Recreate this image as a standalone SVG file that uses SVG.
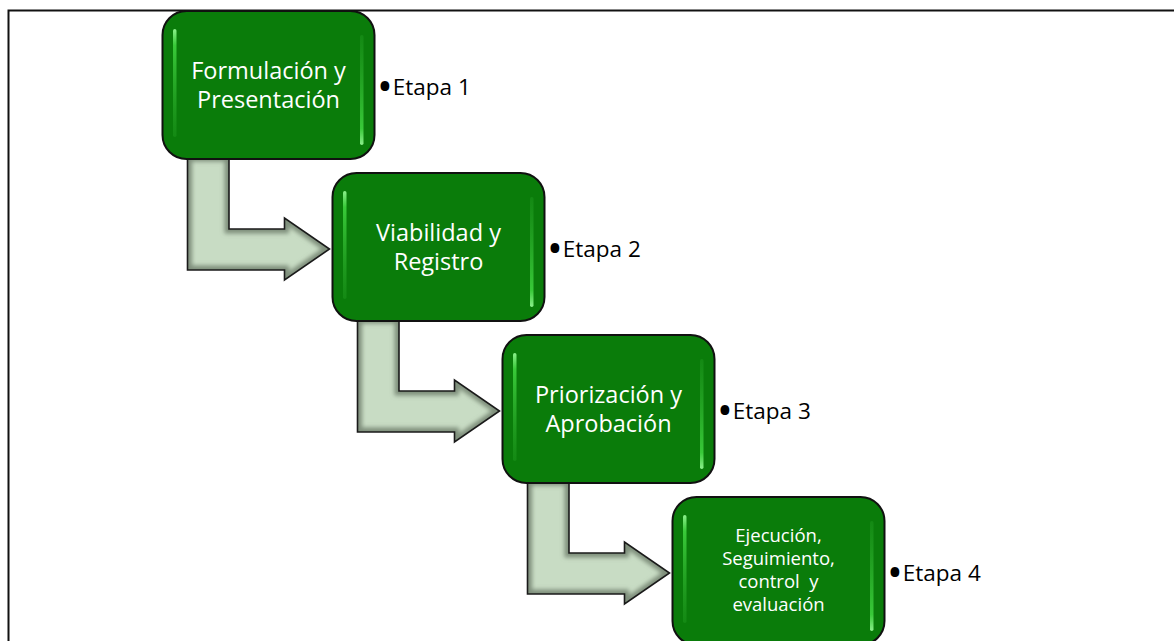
<svg xmlns="http://www.w3.org/2000/svg" width="1174" height="641" viewBox="0 0 1174 641">
<style>
.frame{fill:none;stroke:#111;stroke-width:2}
.box{fill:#0a7c0a;stroke:#111;stroke-width:2}
.lbl{font-family:"Open Sans","Liberation Sans",sans-serif;fill:#fff;text-anchor:middle}
.big{font-size:23.5px}
.small{font-size:18.5px}
.etapa{font-family:"Open Sans","Liberation Sans",sans-serif;font-size:22.5px;fill:#000}
.bul{font-size:42px}
.arrFill{fill:#c8dcc4}
.arrEdge{fill:none;stroke:#7f8f7c;stroke-width:9;filter:url(#blur)}
.arrLine{fill:none;stroke:#1a1a1a;stroke-width:1.6;stroke-linejoin:miter}
</style>
<defs>
<filter id="blur" x="-10%" y="-10%" width="120%" height="120%"><feGaussianBlur stdDeviation="2.2"/></filter>
<linearGradient id="hlL" x1="0" y1="0" x2="0" y2="1">
<stop offset="0" stop-color="#8cf08c" stop-opacity="1"/>
<stop offset="0.15" stop-color="#3ed23e" stop-opacity="0.9"/>
<stop offset="1" stop-color="#2aa82a" stop-opacity="0.3"/>
</linearGradient>
<linearGradient id="hlR" x1="0" y1="1" x2="0" y2="0">
<stop offset="0" stop-color="#8cf08c" stop-opacity="1"/>
<stop offset="0.15" stop-color="#3ed23e" stop-opacity="0.9"/>
<stop offset="1" stop-color="#2aa82a" stop-opacity="0.3"/>
</linearGradient>
<path id="arrow" d="M-145,-16 L-103.5,-16 L-103.5,56 L-48,56 L-48,45 L-3,76 L-48,107 L-48,97 L-145,97 Z"/>
<clipPath id="arrClip"><use href="#arrow"/></clipPath>
<g id="arrowShape">
<use href="#arrow" class="arrFill"/>
<g clip-path="url(#arrClip)"><use href="#arrow" class="arrEdge"/></g>
<use href="#arrow" class="arrLine"/>
</g>
<g id="boxShape">
<rect class="box" x="0" y="0" width="212" height="148" rx="24" ry="24"/>
<rect x="10.5" y="18" width="3.5" height="108" rx="1.75" fill="url(#hlL)"/>
<rect x="197.5" y="24" width="3.5" height="110" rx="1.75" fill="url(#hlR)"/>
</g>
</defs>
<rect x="0" y="0" width="1174" height="641" fill="#fff"/>
<rect class="frame" x="8.5" y="10.5" width="1200" height="700"/>
<g id="connectors">
<use href="#arrowShape" transform="translate(332.5,173)"/>
<use href="#arrowShape" transform="translate(502.5,335)"/>
<use href="#arrowShape" transform="translate(672.5,497)"/>
</g>
<g id="node1">
<use href="#boxShape" transform="translate(162.5,11)"/>
<text class="lbl big" x="268.5" y="79">Formulación y</text>
<text class="lbl big" x="268.5" y="108">Presentación</text>
<text class="etapa" x="377" y="95"><tspan class="bul" dy="6">•</tspan><tspan dy="-6">Etapa 1</tspan></text>
</g>
<g id="node2">
<use href="#boxShape" transform="translate(332.5,173)"/>
<text class="lbl big" x="438.5" y="241">Viabilidad y</text>
<text class="lbl big" x="438.5" y="270">Registro</text>
<text class="etapa" x="547" y="257"><tspan class="bul" dy="6">•</tspan><tspan dy="-6">Etapa 2</tspan></text>
</g>
<g id="node3">
<use href="#boxShape" transform="translate(502.5,335)"/>
<text class="lbl big" x="608.5" y="403">Priorización y</text>
<text class="lbl big" x="608.5" y="432">Aprobación</text>
<text class="etapa" x="717" y="419"><tspan class="bul" dy="6">•</tspan><tspan dy="-6">Etapa 3</tspan></text>
</g>
<g id="node4">
<use href="#boxShape" transform="translate(672.5,497)"/>
<text class="lbl small" x="778.5" y="542">Ejecución,</text>
<text class="lbl small" x="778.5" y="565">Seguimiento,</text>
<text class="lbl small" x="778.5" y="588" xml:space="preserve">control  y</text>
<text class="lbl small" x="778.5" y="611">evaluación</text>
<text class="etapa" x="887" y="581"><tspan class="bul" dy="6">•</tspan><tspan dy="-6">Etapa 4</tspan></text>
</g>
</svg>
